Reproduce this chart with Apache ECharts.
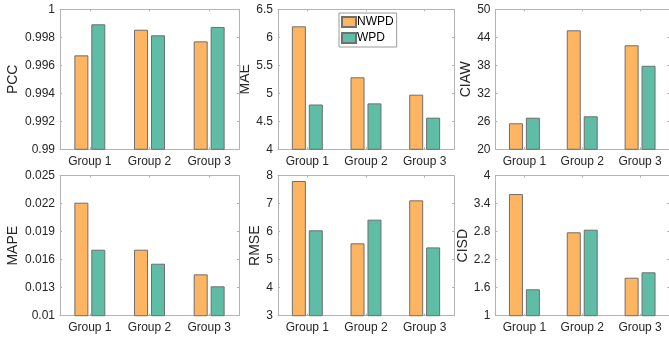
<!DOCTYPE html>
<html>
<head>
<meta charset="utf-8">
<script src="https://cdn.jsdelivr.net/npm/echarts@6/dist/echarts.min.js"></script>
<style>html,body{margin:0;padding:0;background:#fff}#c{width:669px;height:341px}</style>
</head>
<body>
<div id="c"></div>
<script>
var categories = ['Group 1', 'Group 2', 'Group 3'];
var seriesNames = ['NWPD', 'WPD'];
var metricNames = ['PCC', 'MAE', 'CIAW', 'MAPE', 'RMSE', 'CISD'];

var pccNWPD = [0.99671, 0.99854, 0.99771];
var pccWPD = [0.99893, 0.99814, 0.99874];
var maeNWPD = [6.196, 5.286, 4.975];
var maeWPD = [4.80, 4.82, 4.565];
var ciawNWPD = [25.57, 45.5, 42.29];
var ciawWPD = [26.77, 27.07, 37.9];
var mapeNWPD = [0.02211, 0.01707, 0.01443];
var mapeWPD = [0.01707, 0.01557, 0.01315];
var rmseNWPD = [7.81, 5.585, 7.12];
var rmseWPD = [6.05, 6.43, 5.44];
var cisdNWPD = [3.607, 2.787, 1.814];
var cisdWPD = [1.566, 2.843, 1.93];

var pccTicks = [0.99, 0.992, 0.994, 0.996, 0.998, 1];
var maeTicks = [4, 4.5, 5, 5.5, 6, 6.5];
var ciawTicks = [20, 26, 32, 38, 44, 50];
var mapeTicks = [0.01, 0.013, 0.016, 0.019, 0.022, 0.025];
var rmseTicks = [3, 4, 5, 6, 7, 8];
var cisdTicks = [1, 1.6, 2.2, 2.8, 3.4, 4];

var nwpdData = [pccNWPD, maeNWPD, ciawNWPD, mapeNWPD, rmseNWPD, cisdNWPD];
var wpdData = [pccWPD, maeWPD, ciawWPD, mapeWPD, rmseWPD, cisdWPD];
var tickSets = [pccTicks, maeTicks, ciawTicks, mapeTicks, rmseTicks, cisdTicks];

var grids = [
  {left: 60, top: 9.3, width: 179, height: 140},
  {left: 278, top: 9.3, width: 176, height: 140},
  {left: 495.5, top: 9.3, width: 178, height: 140},
  {left: 60, top: 175.7, width: 179, height: 140},
  {left: 278, top: 175.7, width: 176, height: 140},
  {left: 495.5, top: 175.7, width: 178, height: 140}
];
var nameGaps = [40, 24, 21, 40, 13, 25];

var FONT = '"Liberation Sans", Arial, sans-serif';
var TXT = '#262626';
var AX = '#b3b3b3';
var ORANGE = '#FDB562';
var GREEN = '#5FBDA6';
var EDGE = '#6f6f6f';

function fmt(v) { return String(+(+v).toFixed(4)); }

var xAxes = [], yAxes = [], series = [];
for (var i = 0; i < 6; i++) {
  var t = tickSets[i];
  xAxes.push({
    gridIndex: i, type: 'category', data: categories, position: 'bottom',
    axisLine: {show: true, onZero: false, lineStyle: {color: AX, width: 1}},
    axisTick: {show: true, inside: true, length: 2, alignWithLabel: true, lineStyle: {color: AX}},
    axisLabel: {fontFamily: FONT, fontSize: 12, color: TXT, margin: 6},
    splitLine: {show: false}
  });
  yAxes.push({
    gridIndex: i, type: 'value', min: t[0], max: t[t.length - 1], position: 'left',
    name: metricNames[i], nameLocation: 'middle', nameGap: nameGaps[i],
    nameTextStyle: {fontFamily: FONT, fontSize: 14, color: TXT},
    axisLine: {show: true, lineStyle: {color: AX, width: 1}},
    axisTick: {show: true, inside: true, length: 2, customValues: t, lineStyle: {color: AX}},
    axisLabel: {customValues: t, formatter: fmt, fontFamily: FONT, fontSize: 12, color: TXT, margin: 5},
    splitLine: {show: false}
  });
  series.push({
    name: seriesNames[0], type: 'bar', xAxisIndex: i, yAxisIndex: i, data: nwpdData[i],
    barWidth: 14, barGap: '21%',
    itemStyle: {color: ORANGE, borderColor: EDGE, borderWidth: 1}
  });
  series.push({
    name: seriesNames[1], type: 'bar', xAxisIndex: i, yAxisIndex: i, data: wpdData[i],
    barWidth: 14, barGap: '21%',
    itemStyle: {color: GREEN, borderColor: EDGE, borderWidth: 1}
  });
}
for (var j = 0; j < 6; j++) {
  var tt = tickSets[j];
  xAxes.push({
    gridIndex: j, type: 'category', data: categories, position: 'top',
    axisLine: {show: true, onZero: false, lineStyle: {color: AX, width: 1}},
    axisTick: {show: true, inside: true, length: 2, alignWithLabel: true, lineStyle: {color: AX}},
    axisLabel: {show: false}, splitLine: {show: false}
  });
  yAxes.push({
    gridIndex: j, type: 'value', min: tt[0], max: tt[tt.length - 1], position: 'right',
    axisLine: {show: true, lineStyle: {color: AX, width: 1}},
    axisTick: {show: true, inside: true, length: 2, customValues: tt, lineStyle: {color: AX}},
    axisLabel: {show: false}, splitLine: {show: false}
  });
}

var chart = echarts.init(document.getElementById('c'), null, {renderer: 'canvas'});
chart.setOption({
  animation: false,
  backgroundColor: '#fff',
  grid: grids,
  xAxis: xAxes,
  yAxis: yAxes,
  legend: {
    data: seriesNames, orient: 'vertical', left: 339, top: 13,
    itemWidth: 14, itemHeight: 10, itemGap: 4,
    padding: [3, 3, 3, 2], borderColor: '#9a9a9a', borderWidth: 1, backgroundColor: '#fff',
    icon: 'rect',
    textStyle: {fontFamily: FONT, fontSize: 12, color: '#000', padding: [0, 0, 0, -4]}
  },
  series: series
});
</script>
</body>
</html>
